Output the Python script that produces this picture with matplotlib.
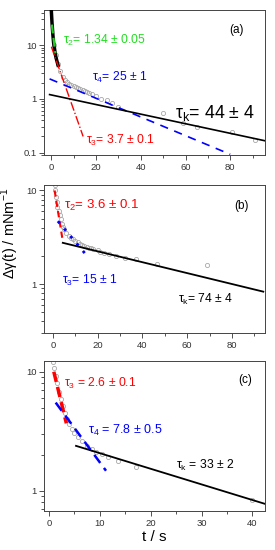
import matplotlib
matplotlib.use("Agg")
import matplotlib.pyplot as plt
from matplotlib.ticker import MultipleLocator, LogLocator, NullFormatter, FixedLocator

plt.rcParams['font.family'] = ['Liberation Sans', 'DejaVu Sans']
plt.rcParams['mathtext.fontset'] = 'custom'
plt.rcParams['mathtext.rm'] = 'Liberation Sans'

# panel (a)
a_t = [1, 2, 3, 4, 5, 6, 7, 8, 9, 10, 11, 12, 13, 14, 15, 16, 17, 18, 20, 22, 24.7, 27, 30, 50, 59, 65, 81, 91]
a_y = [10, 6.5, 4.5, 3.3, 2.6, 2.25, 2.05, 1.92, 1.82, 1.75, 1.68, 1.6, 1.54, 1.48, 1.42, 1.36, 1.3, 1.24, 1.12, 1.0, 0.95, 0.85, 0.71, 0.54, 0.36, 0.30, 0.245, 0.17]
a_early_t = [0, 0.3, 0.7, 1.0, 1.5, 2.0, 2.5, 3.0]
a_early_y = [42, 25, 15, 11, 8, 6, 5, 4.2]
a_fit2 = ([0.2, 1.8], [24, 7])
a_fit3 = ([0, 14.2], [9.3, 0.2])
a_fit4 = ([-0.8, 80], [2.35, 0.093])
a_fitk = ([-0.8, 95.6], [1.2, 0.166])

# panel (b)
b_t = [0.8, 1.0, 1.3, 1.6, 2.0, 2.5, 3.0, 3.5, 4, 4.5, 5, 6, 7, 8, 9, 10, 11, 12, 13, 14, 15, 16, 17, 18, 20, 21, 23, 25, 28, 32, 37, 46.7, 68.9]
b_y = [11.5, 10, 8.5, 7.5, 6.6, 6.0, 5.5, 4.9, 4.4, 4.1, 3.85, 3.5, 3.25, 3.1, 3.0, 2.9, 2.8, 2.7, 2.62, 2.57, 2.5, 2.45, 2.42, 2.38, 2.3, 2.22, 2.15, 2.08, 2.0, 1.9, 1.87, 1.65, 1.58]
b_fit2 = ([0.75, 4.4], [10, 2.87])
b_fit3 = ([2.2, 15.1], [4.7, 2.02])
b_fitk = ([4.4, 94], [2.76, 0.83])

# panel (c)
c_t = [0.8, 1.0, 1.3, 1.6, 2.0, 2.4, 2.8, 3.2, 3.6, 4.0, 4.5, 5.0, 5.7, 6.5, 7.5, 8.4, 9.3, 10.4, 11.5, 13.5, 17.1, 40.0]
c_y = [12.0, 10.8, 9.2, 8.0, 6.8, 5.9, 5.1, 4.5, 4.0, 3.6, 3.3, 3.05, 2.85, 2.6, 2.38, 2.25, 2.13, 2.02, 1.93, 1.78, 1.59, 0.84]
c_fit3 = ([0.93, 3.4], [10, 3.68])
c_fit4 = ([1.3, 11.2], [5.5, 1.47])
c_fitk = ([5.3, 42.4], [2.38, 0.776])

fig = plt.figure(figsize=(2.75, 5.5), dpi=100)
ax_a = fig.add_axes([0.16, 0.718, 0.804, 0.264])
ax_b = fig.add_axes([0.16, 0.3945, 0.804, 0.2695])
ax_c = fig.add_axes([0.16, 0.071, 0.804, 0.2726])

gray = '#a8a8a8'


def style(ax, xlim, ylim, xmaj, xmin, yticks, ylabels):
    ax.set_yscale('log')
    ax.set_xlim(*xlim)
    ax.set_ylim(*ylim)
    ax.xaxis.set_major_locator(MultipleLocator(xmaj))
    ax.xaxis.set_minor_locator(MultipleLocator(xmin))
    ax.yaxis.set_major_locator(FixedLocator(yticks))
    ax.set_yticklabels(ylabels)
    ax.yaxis.set_minor_locator(LogLocator(base=10, subs=range(2, 10)))
    ax.yaxis.set_minor_formatter(NullFormatter())
    ax.tick_params(which='both', direction='out', labelsize=6.8, width=0.6, colors='#333333', pad=2)
    ax.tick_params(which='major', length=3.5)
    ax.tick_params(which='minor', length=2)
    for s in ax.spines.values():
        s.set_linewidth(0.7)
        s.set_color('#444444')


def circles(ax, t, y):
    ax.plot(t, y, 'o', ms=3, mfc='none', mec=gray, mew=0.6, zorder=2)


# (a)
circles(ax_a, a_t, a_y)
ax_a.plot(a_early_t, a_early_y, color='black', lw=2.5, zorder=3)
ax_a.plot(*a_fit2, color='#22cc22', lw=1.6, ls=(0, (4, 2)), zorder=4)
ax_a.plot(*a_fit3, color='red', lw=1.0, ls='-.', zorder=4)
ax_a.plot(*a_fit4, color='blue', lw=1.2, ls=(0, (5, 4)), zorder=4)
ax_a.plot(*a_fitk, color='black', lw=1.2, zorder=4)
style(ax_a, (-3.3, 95.6), (0.09, 45), 20, 10, [0.1, 1, 10], ['0.1', '1', '10'])
ax_a.text(0.87, 0.86, '(a)', transform=ax_a.transAxes, fontsize=8.5, ha='center', va='center')
ax_a.text(5, 12, r'τ$_\mathregular{2}$= 1.34 ± 0.05', color='#22dd22', fontsize=8.7, va='center')
ax_a.text(18, 2.5, r'τ$_\mathregular{4}$= 25 ± 1', color='blue', fontsize=8.7, va='center')
ax_a.text(55.5, 0.55, r'τ$_\mathregular{k}$= 44 ± 4', color='black', fontsize=12.8, va='center')
ax_a.text(15.5, 0.165, r'τ$_\mathregular{3}$= 3.7 ± 0.1', color='red', fontsize=8.7, va='center')

# (b)
circles(ax_b, b_t, b_y)
ax_b.plot(*b_fit2, color='red', lw=1.5, ls=(0, (3, 2)), zorder=4)
ax_b.plot(*b_fit3, color='blue', lw=2.0, ls=(0, (1, 2.5)), zorder=4)
ax_b.plot(*b_fitk, color='black', lw=1.3, zorder=4)
style(ax_b, (-4, 94.8), (0.3, 11.5), 20, 10, [1, 10], ['1', '10'])
ax_b.set_ylabel(r'Δγ(t) / mNm$^\mathregular{-1}$', fontsize=10.5)
ax_b.yaxis.set_label_coords(-0.105, 0.67)
ax_b.text(0.895, 0.86, '(b)', transform=ax_b.transAxes, fontsize=8.5, ha='center', va='center')
ax_b.text(4.8, 7.0, r'τ$_\mathregular{2}$= 3.6 ± 0.1', color='red', fontsize=9.5, va='center')
ax_b.text(4.2, 1.1, r'τ$_\mathregular{3}$= 15 ± 1', color='blue', fontsize=8.7, va='center')
ax_b.text(56, 0.68, r'τ$_\mathregular{k}$= 74 ± 4', color='black', fontsize=8.7, va='center')

# (c)
circles(ax_c, c_t, c_y)
ax_c.plot(*c_fit3, color='red', lw=2.5, ls=(0, (3, 1.5)), zorder=4)
ax_c.plot(*c_fit4, color='blue', lw=1.8, ls=(0, (4, 2.5)), zorder=4)
ax_c.plot(*c_fitk, color='black', lw=1.3, zorder=4)
style(ax_c, (-1, 42.5), (0.675, 12.3), 10, 5, [1, 10], ['1', '10'])
ax_c.set_xlabel('t / s', fontsize=11, labelpad=2)
ax_c.text(0.91, 0.875, '(c)', transform=ax_c.transAxes, fontsize=8.5, ha='center', va='center')
ax_c.text(3.0, 8.0, r'τ$_\mathregular{3}$ = 2.6 ± 0.1', color='red', fontsize=8.7, va='center')
ax_c.text(7.6, 3.2, r'τ$_\mathregular{4}$ = 7.8 ± 0.5', color='blue', fontsize=9, va='center')
ax_c.text(25, 1.64, r'τ$_\mathregular{k}$ = 33 ± 2', color='black', fontsize=8.7, va='center')

fig.savefig('out.png', dpi=100)
